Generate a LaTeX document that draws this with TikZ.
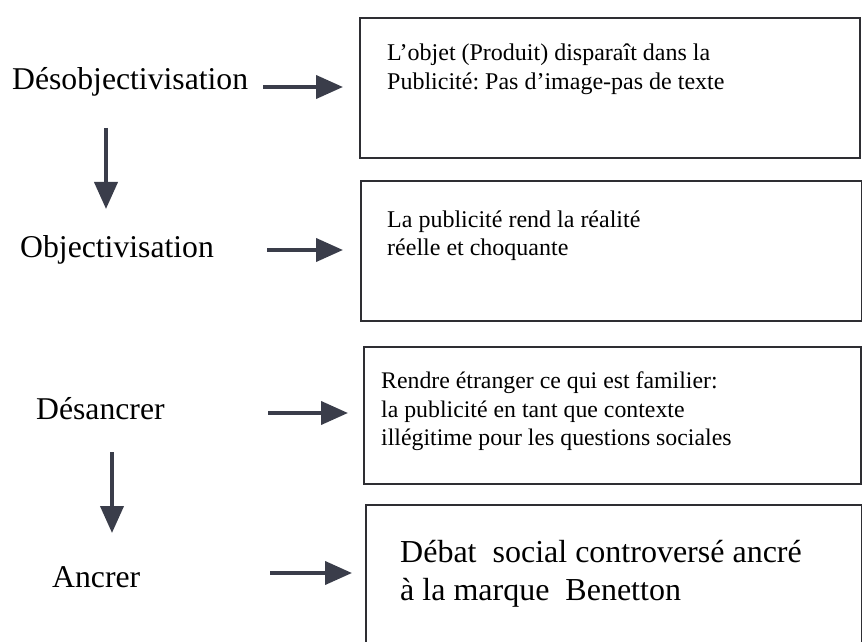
\documentclass[tikz,border=0pt]{standalone}
\usepackage{fontspec}
\setmainfont{Liberation Serif}
\usetikzlibrary{arrows.meta}
\frenchspacing
\definecolor{arrowc}{HTML}{3A3D4A}
\definecolor{boxc}{HTML}{2E2E33}
\tikzset{
  x=1pt,y=1pt,
  box/.style={draw=boxc, line width=2pt, rectangle, anchor=north west, inner sep=0pt},
  lab/.style={anchor=base west, inner sep=0pt, font=\fontsize{31.7}{38}\selectfont},
  btxt/.style={anchor=base west, inner sep=0pt, font=\fontsize{24}{29}\selectfont},
  btxtc/.style={anchor=base west, inner sep=0pt, font=\fontsize{23.8}{28}\selectfont},
  btxtd/.style={anchor=base west, inner sep=0pt, font=\fontsize{32}{38}\selectfont},
  arr/.style={draw=arrowc, line width=4pt, -{Triangle[length=27pt,width=23pt]}},
}
\begin{document}
\begin{tikzpicture}
\useasboundingbox (0,0) rectangle (862,641);
% boxes
\node[box, minimum width=500pt, minimum height=140pt] (b1) at (359,624) {};
\node[box, minimum width=501pt, minimum height=140pt] (b2) at (360,461) {};
\node[box, minimum width=497pt, minimum height=137pt] (b3) at (363,295) {};
\node[box, minimum width=496pt, minimum height=138pt] (b4) at (365,137) {};
% box texts
\node[btxt] (t1a) at (387,580) {L’objet (Produit) disparaît dans la};
\node[btxt] (t1b) at (387,551) {Publicité: Pas d’image-pas de texte};
\node[btxt] (t2a) at (387,413) {La publicité rend la réalité};
\node[btxt] (t2b) at (387,385) {réelle et choquante};
\node[btxtc] (t3a) at (381,253) {Rendre étranger ce qui est familier:};
\node[btxtc] (t3b) at (381,224) {la publicité en tant que contexte};
\node[btxtc] (t3c) at (381,196) {illégitime pour les questions sociales};
\node[btxtd] (t4a) at (400,79) {Débat~ social controversé ancré};
\node[btxtd] (t4b) at (400,41) {à la marque~ Benetton};
% left labels
\node[lab] (l1) at (12,551) {Désobjectivisation};
\node[lab] (l2) at (20,383) {Objectivisation};
\node[lab] (l3) at (36,222) {Désancrer};
\node[lab] (l4) at (52,54) {Ancrer};
% arrow end coordinates
\coordinate (h1s) at (263,554);
\coordinate (h1e) at (343,554);
\coordinate (h2s) at (267,391);
\coordinate (h2e) at (343,391);
\coordinate (h3s) at (268,228);
\coordinate (h3e) at (348,228);
\coordinate (h4s) at (270,68);
\coordinate (h4e) at (352,68);
\coordinate (v1s) at (106,513);
\coordinate (v1e) at (106,432);
\coordinate (v2s) at (112,189);
\coordinate (v2e) at (112,108);
% arrows
\draw[arr] (h1s) -- (h1e);
\draw[arr] (h2s) -- (h2e);
\draw[arr] (h3s) -- (h3e);
\draw[arr] (h4s) -- (h4e);
\draw[arr] (v1s) -- (v1e);
\draw[arr] (v2s) -- (v2e);
\end{tikzpicture}
\end{document}
